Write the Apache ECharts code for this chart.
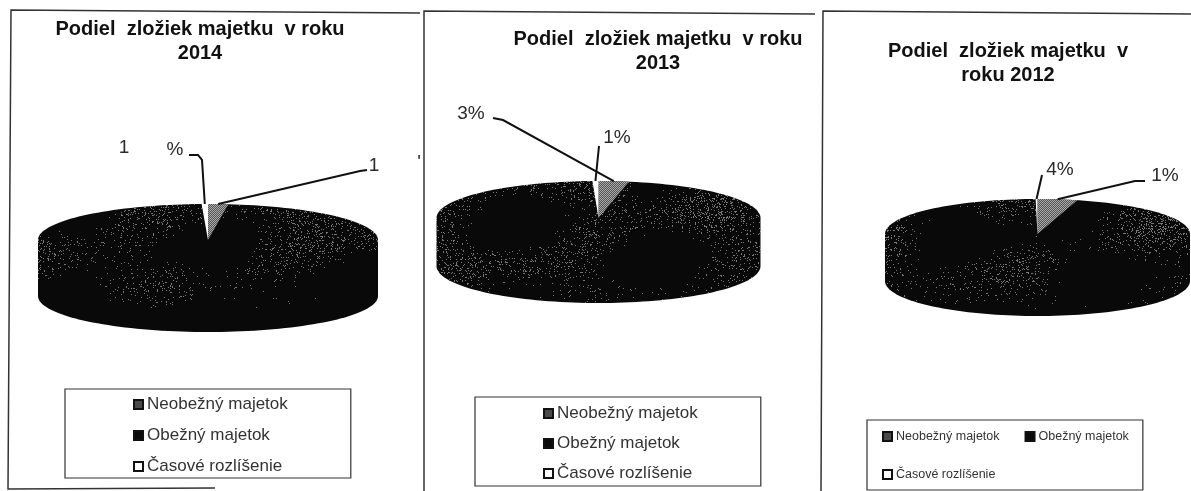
<!DOCTYPE html>
<html><head><meta charset="utf-8">
<style>html,body{margin:0;padding:0;background:#fff}#c{width:1191px;height:491px}</style>
<script src="https://cdn.jsdelivr.net/npm/echarts@6/dist/echarts.min.js"></script>
</head><body><div id="c"></div>
<script>
// ---- data (shares of the pie, in %, for 2014, 2013, 2012)
var years = ['2014', '2013', '2012'];
var neobezny = [1.9, 3.0, 4.2];
var obezny = [97.5, 96.4, 95.6];
var casove = [0.6, 0.6, 0.2];
var sliceNames = ['Neobežný majetok', 'Obežný majetok', 'Časové rozlíšenie'];
var titles = ['Podiel  zložiek majetku  v roku\n2014', 'Podiel  zložiek majetku  v roku\n2013', 'Podiel  zložiek majetku  v\nroku 2012'];

// ---- layout
var pies = [
  {cx: 208, cy: 240, rx: 170, ry: 36, depth: 56},
  {cx: 598.5, cy: 218, rx: 162, ry: 37, depth: 48},
  {cx: 1037.5, cy: 234, rx: 152.5, ry: 35, depth: 47}
];
var leaders = [
  {pie: 0, slice: 0, text: '1', via: [[360, 171], [367, 170]], tx: 374, ty: 166},
  {pie: 0, slice: 2, text: '%', via: [[202, 160], [198, 155], [189, 155]], tx: 175, ty: 150},
  {pie: 1, slice: 0, text: '3%', via: [[503, 120], [493, 118]], tx: 471, ty: 114},
  {pie: 1, slice: 2, text: '1%', via: [[599, 146]], tx: 617, ty: 138},
  {pie: 2, slice: 2, text: '4%', via: [[1042, 175]], tx: 1060, ty: 170},
  {pie: 2, slice: 0, text: '1%', via: [[1135, 181], [1145, 181]], tx: 1165, ty: 176}
];
var looseLabels = [{text: '1', x: 124, y: 148}, {text: "'", x: 419, y: 163}];
var legendBoxes = [
  {left: 65, top: 389, width: null, padding: [7, 63, 3, 68], font: 17, gap: 14, orient: 'vertical'},
  {left: 475, top: 397, width: null, padding: [8, 63, 4, 68], font: 17, gap: 13, orient: 'vertical'},
  {left: 867, top: 420, width: 262, padding: [10, 14, 9, 15], font: 12.5, gap: 25, orient: 'horizontal'}
];
var sliceSeries = [neobezny, obezny, casove];

// Print-like speckle in page coordinates: patchy on the top face, fading to solid black low on the side.
function speckle() {
  var c = document.createElement('canvas'); c.width = 1191; c.height = 491;
  var g = c.getContext('2d'); g.fillStyle = '#090909'; g.fillRect(0, 0, 1191, 491);
  g.fillStyle = '#777777';
  for (var y = 170; y < 340; y++) for (var x = 0; x < 1191; x++) {
    var n = Math.sin(x * 12.9898 + y * 78.233) * 43758.5453; n -= Math.floor(n);
    var patch = Math.sin(x / 23 + 1.3) + Math.sin(y / 13 + x / 41) + Math.cos(x / 67 - y / 19 + 0.7);
    var fade = Math.max(0, Math.min(1, (310 - y) / 50));
    if (n < Math.max(0, patch + 0.9) * 0.055 * fade) g.fillRect(x, y, 1, 1);
  }
  return {image: c, repeat: 'no-repeat'};
}
function dither() {
  var c = document.createElement('canvas'); c.width = c.height = 2;
  var g = c.getContext('2d'); g.fillStyle = '#555'; g.fillRect(0, 0, 2, 2);
  g.fillStyle = '#a8a8a8'; g.fillRect(0, 0, 1, 1); g.fillRect(1, 1, 1, 1);
  return {image: c, repeat: 'repeat'};
}
var darkFill = speckle();
var sliceColors = [dither(), darkFill, '#ffffff'];

function startShare(i, k) { var s = 0; for (var j = 0; j < k; j++) s += sliceSeries[j][i]; return s; }
function point(p, share) {
  var a = share / 100 * 2 * Math.PI;
  return [p.cx + p.rx * Math.sin(a), p.cy - p.ry * Math.cos(a)];
}
function wedge(p, from, to) {
  var pts = [[p.cx, p.cy]], n = Math.max(2, Math.ceil((to - from) * 3));
  for (var t = 0; t <= n; t++) pts.push(point(p, from + (to - from) * t / n));
  return pts;
}
// whole silhouette of the disc: upper half of the top face, lower half of the bottom face
function silhouette(p) {
  var pts = [], t;
  for (t = 0; t <= 80; t++) { var a = Math.PI * t / 80; pts.push([p.cx - p.rx * Math.cos(a), p.cy - p.ry * Math.sin(a)]); }
  for (t = 0; t <= 80; t++) { var b = Math.PI * t / 80; pts.push([p.cx + p.rx * Math.cos(b), p.cy + p.depth + p.ry * Math.sin(b)]); }
  return pts;
}
function sliceSeriesOption(k) {
  return {
    type: 'custom', name: sliceNames[k], coordinateSystem: 'none', z: k === 1 ? 1 : 2,
    itemStyle: {color: ['#555555', '#0b0b0b', '#ffffff'][k]}, silent: true,
    data: sliceSeries[k],
    renderItem: function (params, api) {
      var i = params.dataIndex, p = pies[i], from = startShare(i, k), to = from + api.value(0);
      var kids = [];
      if (k === 1) kids.push({type: 'polygon', shape: {points: silhouette(p)}, style: {fill: darkFill}});
      else kids.push({type: 'polygon', shape: {points: wedge(p, from, to)}, style: {fill: sliceColors[k]}});
      return {type: 'group', children: kids};
    }
  };
}
var labelFont = '19px "Liberation Sans", Arial, sans-serif';
var series = [0, 1, 2].map(sliceSeriesOption);
series.push({
  type: 'custom', coordinateSystem: 'none', z: 5, silent: true, data: leaders.map(function (d, i) { return i; }),
  renderItem: function (params) {
    var d = leaders[params.dataIndex], p = pies[d.pie];
    var from = startShare(d.pie, d.slice), to = from + sliceSeries[d.slice][d.pie];
    var anchor = point(p, (from + to) / 2);
    return {type: 'group', children: [
      {type: 'polyline', shape: {points: [anchor].concat(d.via)}, style: {stroke: '#111', lineWidth: 2, fill: 'none'}},
      {type: 'text', style: {x: d.tx, y: d.ty, text: d.text, font: labelFont, fill: '#2a2a2a', textAlign: 'center', textVerticalAlign: 'middle'}}
    ]};
  }
});
series.push({
  type: 'custom', coordinateSystem: 'none', z: 5, silent: true, data: looseLabels.map(function (d, i) { return i; }),
  renderItem: function (params) {
    var d = looseLabels[params.dataIndex];
    return {type: 'text', style: {x: d.x, y: d.y, text: d.text, font: labelFont, fill: '#2a2a2a', textAlign: 'center', textVerticalAlign: 'middle'}};
  }
});

var titleCenters = [200, 658, 1008], titleTops = [17, 27, 39];
var frameStyle = {stroke: '#333', lineWidth: 1.5, fill: 'none'};
var frames = [
  [[420, 13], [11, 10], [8, 489], [215, 488]],
  [[815, 14], [424, 11], [424, 491]],
  [[1191, 14], [823, 11], [821, 491]]
];
var chart = echarts.init(document.getElementById('c'), null, {renderer: 'canvas'});
chart.setOption({
  animation: false,
  backgroundColor: '#fff',
  title: titles.map(function (t, i) {
    return {text: t, left: titleCenters[i], top: titleTops[i], textAlign: 'center', padding: 0,
      textStyle: {fontFamily: '"Liberation Sans", Arial, sans-serif', fontWeight: 'bold', fontSize: 20, lineHeight: 24.5, color: '#111'}};
  }),
  legend: legendBoxes.map(function (b) {
    var o = {left: b.left, top: b.top, orient: b.orient, padding: b.padding, itemGap: b.gap, selectedMode: false,
      data: sliceNames.map(function (n, k) {
        return {name: n, icon: 'rect', itemStyle: {color: ['#4a4a4a', '#0b0b0b', '#ffffff'][k], borderColor: '#111', borderWidth: 2}};
      }),
      itemWidth: 9, itemHeight: 9, borderColor: '#333', borderWidth: 1.2, align: 'left',
      textStyle: {fontFamily: '"Liberation Sans", Arial, sans-serif', fontSize: b.font, color: '#333', padding: [0, 0, 0, -1]}};
    if (b.width) o.width = b.width;
    return o;
  }),
  series: series,
  graphic: frames.map(function (pts) {
    return {type: 'polyline', shape: {points: pts}, style: frameStyle, silent: true};
  })
});
</script></body></html>
